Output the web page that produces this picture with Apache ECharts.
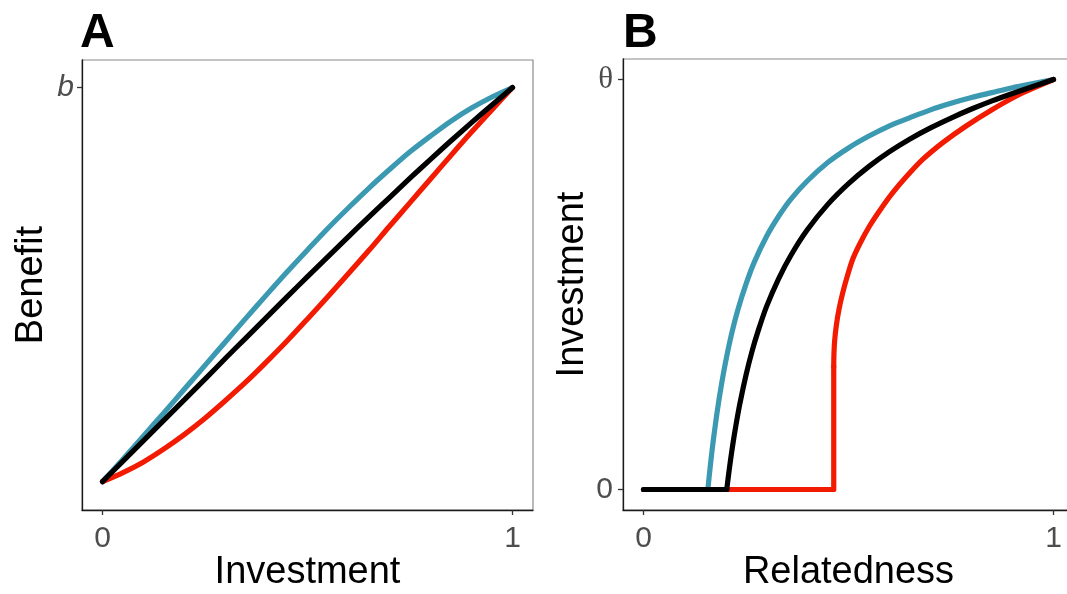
<!DOCTYPE html>
<html>
<head>
<meta charset="utf-8">
<script src="https://cdn.jsdelivr.net/npm/echarts@6/dist/echarts.min.js"></script>
<style>
html,body{margin:0;padding:0;background:#fff;}
#chart{width:1067px;height:594px;}
</style>
</head>
<body>
<div id="chart"></div>
<script>
// ---------- Panel A: Benefit vs Investment ----------
const investA = [0,0.05,0.1,0.15,0.2,0.25,0.3,0.35,0.4,0.45,0.5,0.55,0.6,0.65,0.7,0.75,0.8,0.85,0.9,0.95,1];
const benefitBlue  = [0,0.057,0.116,0.175,0.235,0.295,0.355,0.415,0.474,0.532,0.588,0.643,0.695,0.745,0.792,0.837,0.877,0.915,0.948,0.976,1];
const benefitBlack = [0,0.052,0.104,0.156,0.208,0.260,0.313,0.365,0.417,0.469,0.520,0.571,0.622,0.672,0.721,0.770,0.818,0.865,0.911,0.956,1];
const benefitRed   = [0,0.023,0.050,0.083,0.120,0.161,0.206,0.253,0.304,0.357,0.413,0.470,0.528,0.587,0.648,0.708,0.768,0.828,0.887,0.944,1];

// ---------- Panel B: Investment vs Relatedness ----------
const blueFlatX  = [0,0.157];
const blueFlatY  = [0,0];
const blueCurveX = [0.157,0.160,0.165,0.170,0.180,0.190,0.200,0.215,0.230,0.250,0.270,0.300,0.330,0.360,0.400,0.450,0.500,0.550,0.600,0.650,0.700,0.750,0.800,0.850,0.900,0.950,1.0];
const blueCurveY = [0,0.030,0.076,0.118,0.192,0.255,0.310,0.380,0.438,0.501,0.554,0.617,0.667,0.709,0.753,0.798,0.833,0.862,0.887,0.907,0.926,0.942,0.956,0.968,0.980,0.990,1.0];

const blackFlatX  = [0,0.203];
const blackFlatY  = [0,0];
const blackCurveX = [0.203,0.207,0.212,0.218,0.225,0.235,0.250,0.265,0.280,0.300,0.330,0.360,0.400,0.450,0.500,0.550,0.600,0.650,0.700,0.750,0.800,0.850,0.900,0.950,1.0];
const blackCurveY = [0,0.032,0.070,0.111,0.154,0.209,0.279,0.338,0.388,0.446,0.515,0.572,0.634,0.696,0.746,0.788,0.824,0.855,0.882,0.906,0.928,0.948,0.966,0.983,1.0];

const redFlatX  = [0,0.464,0.464];
const redFlatY  = [0,0,0.30];
const redCurveX = [0.464,0.4645,0.466,0.470,0.477,0.486,0.497,0.510,0.528,0.551,0.578,0.608,0.643,0.681,0.730,0.786,0.851,0.924,1.0];
const redCurveY = [0.30,0.33,0.36,0.398,0.44,0.48,0.52,0.561,0.60,0.642,0.683,0.724,0.765,0.805,0.846,0.886,0.927,0.967,1.0];

const tickValues = [0,1];
const xTickLabels = ['0','1'];
const yTickLabelsA = ['', 'b'];
const yTickLabelsB = ['0', 'θ'];

const COL_BLUE = '#3B9AB2', COL_RED = '#F21A00', COL_BLACK = '#000000';

function zip(xs, ys){ return xs.map((x,i)=>[x, ys[i]]); }

const chart = echarts.init(document.getElementById('chart'), null, {renderer:'canvas'});
const FONT = 'Liberation Sans, Arial, sans-serif';
const SERIF = 'Liberation Serif, DejaVu Serif, serif';

function labelBase(labels, extra){
  return Object.assign({show:true, customValues:tickValues, fontSize:30, color:'#4d4d4d', fontFamily:FONT,
      formatter:(v)=>labels[tickValues.indexOf(v)] ?? ''}, extra || {});
}

function axisBase(extra){
  return Object.assign({
    type:'value',
    axisLine:{show:true, onZero:false, lineStyle:{color:'#1a1a1a', width:1.3}},
    axisTick:{show:true, length:5, customValues:tickValues, lineStyle:{color:'#333', width:1.3}},
    splitLine:{show:false},
    nameLocation:'middle',
    nameMoveOverlap:false,
    nameTextStyle:{fontSize:38, color:'#000', fontFamily:FONT}
  }, extra);
}

function lineSeries(data, color, xi, yi, smooth){
  return {
    type:'line', data:data, xAxisIndex:xi, yAxisIndex:yi,
    showSymbol:false, symbol:'none', smooth:smooth,
    lineStyle:{color:color, width:5.2, cap:'round', join:'round'},
    animation:false, silent:true
  };
}

const option = {
  animation:false,
  backgroundColor:'#fff',
  grid:[
    {left:82, top:60, width:451, height:450, show:true, borderColor:'#8a8a8a', borderWidth:1.2, containLabel:false, outerBoundsMode:'none'},
    {left:623, top:59, width:451, height:451, show:true, borderColor:'#8a8a8a', borderWidth:1.2, containLabel:false, outerBoundsMode:'none'}
  ],
  xAxis:[
    axisBase({gridIndex:0, min:-0.05, max:1.05, name:'Investment', nameGap:44,
      axisLabel:labelBase(xTickLabels, {margin:14})}),
    axisBase({gridIndex:1, min:-0.05, max:1.05, name:'Relatedness', nameGap:44,
      axisLabel:labelBase(xTickLabels, {margin:14})})
  ],
  yAxis:[
    axisBase({gridIndex:0, min:-0.072, max:1.07, name:'Benefit', nameGap:31,
      axisTick:{show:true, length:5, customValues:[1], lineStyle:{color:'#333', width:1.3}},
      axisLabel:labelBase(yTickLabelsA, {customValues:[1], fontStyle:'italic', margin:8})}),
    axisBase({gridIndex:1, min:-0.05, max:1.05, name:'Investment', nameGap:31,
      axisLabel:labelBase(yTickLabelsB, {margin:10,
        formatter:(v)=>{ const t = yTickLabelsB[tickValues.indexOf(v)] ?? ''; return v === 1 ? '{g|'+t+'}' : t; },
        rich:{g:{fontFamily:SERIF, fontSize:31, color:'#4d4d4d'}}})})
  ],
  graphic:[
    {type:'text', left:80, top:10, style:{text:'A', font:'bold 48px '+FONT, fill:'#000'}},
    {type:'text', left:623, top:10, style:{text:'B', font:'bold 48px '+FONT, fill:'#000'}}
  ],
  series:[
    lineSeries(zip(investA, benefitBlue), COL_BLUE, 0, 0, 0.3),
    lineSeries(zip(investA, benefitRed), COL_RED, 0, 0, 0.3),
    lineSeries(zip(investA, benefitBlack), COL_BLACK, 0, 0, 0.3),

    lineSeries(zip(blueFlatX, blueFlatY), COL_BLUE, 1, 1, false),
    lineSeries(zip(blueCurveX, blueCurveY), COL_BLUE, 1, 1, 0.3),
    lineSeries(zip(redFlatX, redFlatY), COL_RED, 1, 1, false),
    lineSeries(zip(redCurveX, redCurveY), COL_RED, 1, 1, 0.3),
    lineSeries(zip(blackFlatX, blackFlatY), COL_BLACK, 1, 1, false),
    lineSeries(zip(blackCurveX, blackCurveY), COL_BLACK, 1, 1, 0.3)
  ]
};
chart.setOption(option);
</script>
</body>
</html>
